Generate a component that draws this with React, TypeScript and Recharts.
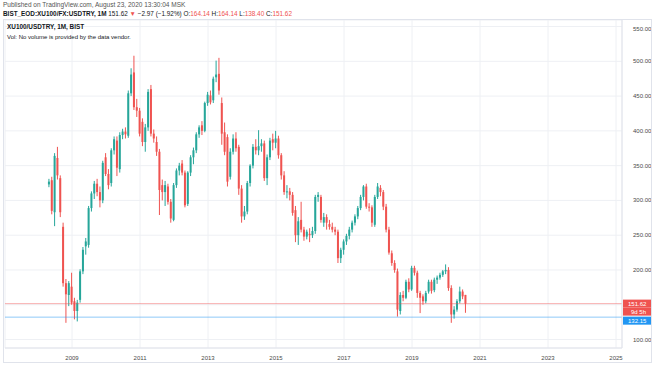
import { ComposedChart, Bar, XAxis, YAxis, CartesianGrid, ReferenceLine } from 'recharts';

// Monthly XU100/USDTRY candles, May 2008 .. Aug 2020 (one row per year)
const FIRST_MONTH = -8; // months relative to Jan 2009

const open = [
  323, 329, 283, 361, 332, 262, 181, 164,
  176, 155, 141, 157, 198, 234, 236, 289, 310, 324, 312, 300,
  362, 338, 325, 372, 386, 345, 394, 399, 393, 454, 484, 434,
  429, 413, 384, 405, 460, 396, 384, 370, 322, 312, 320, 298,
  272, 322, 343, 353, 340, 295, 340, 362, 372, 395, 408, 400,
  440, 451, 444, 477, 482, 440, 398, 391, 334, 370, 389, 377,
  317, 277, 284, 325, 350, 377, 372, 378, 382, 332, 362, 388,
  383, 389, 365, 336, 312, 313, 308, 286, 250, 272, 258, 248,
  252, 250, 256, 305, 305, 268, 276, 266, 262, 258, 255, 217,
  229, 241, 249, 258, 268, 277, 289, 305, 320, 291, 290, 265,
  305, 318, 312, 291, 258, 224, 210, 198, 141, 164, 160, 183,
  172, 203, 196, 167, 162, 155, 169, 183, 171, 186, 189, 193,
  198, 200, 174, 136, 143, 155, 169, 164.14,
];
const high = [
  331, 334, 368, 377, 336, 268, 187, 184,
  196, 160, 157, 201, 233, 246, 292, 313, 328, 331, 320, 357,
  368, 345, 375, 392, 392, 398, 403, 405, 458, 490, 508, 446,
  433, 418, 410, 460, 466, 402, 392, 374, 330, 328, 324, 302,
  325, 346, 354, 358, 343, 342, 365, 376, 398, 408, 414, 442,
  456, 458, 478, 501, 505, 448, 412, 395, 375, 395, 398, 380,
  322, 292, 328, 352, 381, 388, 401, 388, 386, 366, 390, 396,
  400, 393, 368, 342, 322, 318, 312, 292, 276, 298, 262, 258,
  260, 262, 308, 312, 308, 282, 280, 272, 268, 262, 258, 232,
  244, 252, 262, 271, 280, 292, 308, 322, 324, 296, 293, 308,
  325, 322, 315, 295, 262, 228, 214, 202, 168, 170, 186, 188,
  206, 206, 199, 170, 165, 170, 186, 186, 189, 192, 196, 200,
  208, 204, 178, 148, 158, 176, 172, 164.14,
];
const low = [
  319, 280, 263, 330, 276, 176, 124, 148,
  150, 129, 126, 153, 194, 222, 232, 284, 302, 306, 290, 296,
  335, 316, 320, 366, 335, 340, 388, 389, 390, 450, 430, 420,
  392, 378, 370, 400, 392, 383, 364, 279, 300, 292, 294, 268,
  270, 318, 336, 336, 290, 292, 335, 352, 368, 390, 394, 398,
  436, 438, 440, 470, 452, 380, 365, 320, 330, 366, 370, 308,
  268, 272, 280, 320, 346, 366, 365, 370, 328, 322, 358, 372,
  375, 360, 330, 308, 303, 300, 278, 240, 236, 254, 242, 244,
  240, 246, 252, 298, 268, 262, 258, 258, 254, 250, 210, 210,
  222, 236, 244, 254, 264, 273, 286, 300, 288, 284, 262, 262,
  302, 306, 286, 254, 222, 206, 196, 133, 136, 155, 158, 168,
  170, 192, 160, 138, 150, 152, 166, 166, 168, 180, 186, 190,
  194, 170, 124, 130, 140, 152, 158, 138.4,
];
const close = [
  327, 285, 364, 336, 283, 181, 165, 181,
  153, 141, 153, 198, 229, 241, 289, 310, 324, 312, 300, 354,
  338, 322, 372, 388, 347, 394, 399, 395, 454, 481, 434, 429,
  396, 384, 405, 456, 396, 389, 370, 315, 312, 322, 298, 274,
  322, 343, 350, 340, 293, 340, 362, 372, 395, 405, 400, 440,
  452, 441, 475, 481, 458, 396, 370, 327, 370, 389, 375, 317,
  277, 284, 325, 350, 377, 372, 378, 382, 332, 362, 386, 383,
  389, 365, 336, 312, 313, 308, 282, 250, 270, 258, 248, 255,
  250, 256, 305, 308, 272, 276, 268, 262, 258, 255, 217, 229,
  241, 249, 258, 268, 277, 289, 305, 320, 291, 290, 268, 305,
  320, 312, 291, 258, 225, 210, 200, 143, 164, 160, 183, 172,
  203, 196, 167, 160, 155, 167, 183, 170, 186, 189, 193, 198,
  200, 174, 136, 143, 155, 169, 162, 151.62,
];

const yearTicks = [2009, 2011, 2013, 2015, 2017, 2019, 2021, 2023, 2025];
const priceTicks = [100, 125, 150, 175, 200, 225, 250, 275, 300, 325, 350, 375, 400, 425, 450, 475, 500, 525, 550];
const coveredTicks = [125, 150]; // hidden behind the price tags
const lastPrice = 151.62;
const linePrice = 132.15;

const UP = '#26a69a';
const DOWN = '#ef5350';
const BLUE = '#2196f3';
const FONT = '"Liberation Sans", Arial, sans-serif';

const data = open.map((o, i) => ({ t: FIRST_MONTH + i, o, h: high[i], l: low[i], c: close[i] }));

// draws wick + body inside the [low, high] range bar recharts lays out
function Candle(props: any) {
  const { x, y, width, height, payload } = props;
  if (!payload || payload.h === payload.l) return null;
  const { o, h, l, c } = payload;
  const top = Math.min(y, y + height);
  const span = Math.abs(height);
  const px = span / (h - l);
  const at = (v: number) => top + (h - v) * px;
  const color = c >= o ? UP : DOWN;
  const cx = x + width / 2;
  const bodyTop = at(Math.max(o, c));
  const bodyH = Math.max(1, at(Math.min(o, c)) - bodyTop);
  return (
    <g>
      <line x1={cx} x2={cx} y1={top} y2={top + span} stroke={color} strokeWidth={1} />
      <rect x={x} y={bodyTop} width={width} height={bodyH} fill={color} />
    </g>
  );
}

function PriceTick(props: any) {
  const { x, y, payload } = props;
  if (coveredTicks.includes(payload.value)) return null;
  return (
    <text x={x} y={y} dy={2} fontSize={6} fill="#4a4a4a" fontFamily={FONT} textAnchor="start">
      {payload.value.toFixed(2)}
    </text>
  );
}

function PriceTag(props: any) {
  const { viewBox, text, bg, sub, shift = 0 } = props;
  if (!viewBox) return null;
  const x = viewBox.x + viewBox.width + 1;
  const y = viewBox.y + shift;
  return (
    <g fontFamily={FONT} fontSize={6} fill="#fff">
      <rect x={x} y={y - 4} width={28} height={8} fill={bg} />
      <text x={x + 5} y={y + 2}>{text}</text>
      {sub && <rect x={x} y={y + 4} width={28} height={8} fill={bg} />}
      {sub && <text x={x + 8} y={y + 10}>{sub}</text>}
    </g>
  );
}

export default function App() {
  const abs: any = { position: 'absolute', fontFamily: FONT, whiteSpace: 'nowrap', lineHeight: 1 };
  return (
    <div style={{ position: 'absolute', left: 0, top: 0, width: 654, height: 366, background: '#fff', overflow: 'hidden' }}>
      <div style={{ ...abs, left: 3, top: 2, fontSize: 6.5, color: '#555' }}>
        Published on TradingView.com, August 23, 2020 13:30:04 MSK
      </div>
      <div style={{ ...abs, left: 3, top: 11, fontSize: 6.4, color: '#131722' }}>
        <b>BIST_EOD:XU100/FX:USDTRY, 1M</b> 151.62 <span style={{ color: DOWN }}>▼</span> −2.97 (−1.92%){' '}
        O:<span style={{ color: DOWN }}>164.14</span> H:<span style={{ color: DOWN }}>164.14</span>{' '}
        L:<span style={{ color: DOWN }}>138.40</span> C:<span style={{ color: DOWN }}>151.62</span>
      </div>

      <div style={{ position: 'absolute', left: 3, top: 20 }}>
        <ComposedChart width={648} height={342} data={data} margin={{ top: 0, right: 0, bottom: 0, left: 2 }}>
          <CartesianGrid stroke="#eef0f4" />
          <XAxis
            type="number"
            dataKey="t"
            domain={[-23.65, 194.1]}
            allowDataOverflow
            ticks={yearTicks.map((y) => (y - 2009) * 12)}
            tickFormatter={(v) => String(2009 + v / 12)}
            tick={{ fontSize: 6, fill: '#4a4a4a', fontFamily: FONT }}
            tickLine={false}
            tickMargin={2}
            axisLine={{ stroke: '#e0e3eb' }}
            height={14}
          />
          <YAxis
            orientation="right"
            domain={[87.8, 559.4]}
            allowDataOverflow
            ticks={priceTicks}
            tick={<PriceTick />}
            tickLine={false}
            tickMargin={5}
            axisLine={{ stroke: '#e0e3eb' }}
            width={29}
          />
          <ReferenceLine
            y={lastPrice}
            stroke={DOWN}
            strokeOpacity={0.45}
            label={<PriceTag text="151.62" bg={DOWN} sub="9d 5h" />}
          />
          <ReferenceLine
            y={linePrice}
            stroke={BLUE}
            strokeOpacity={0.5}
            label={<PriceTag text="132.15" bg={BLUE} shift={3.5} />}
          />
          <Bar
            dataKey={(d: any) => [d.l, d.h]}
            barSize={2}
            shape={<Candle />}
            isAnimationActive={false}
          />
        </ComposedChart>
      </div>

      <div style={{ position: 'absolute', left: 3, top: 19, width: 647, height: 342, border: '1px solid #e0e3eb', pointerEvents: 'none' }} />
      <div style={{ ...abs, left: 7, top: 24, fontSize: 6.4, fontWeight: 'bold', color: '#131722' }}>XU100/USDTRY, 1M, BIST</div>
      <div style={{ ...abs, left: 7, top: 34, fontSize: 6, color: '#131722' }}>Vol: No volume is provided by the data vendor.</div>
    </div>
  );
}
